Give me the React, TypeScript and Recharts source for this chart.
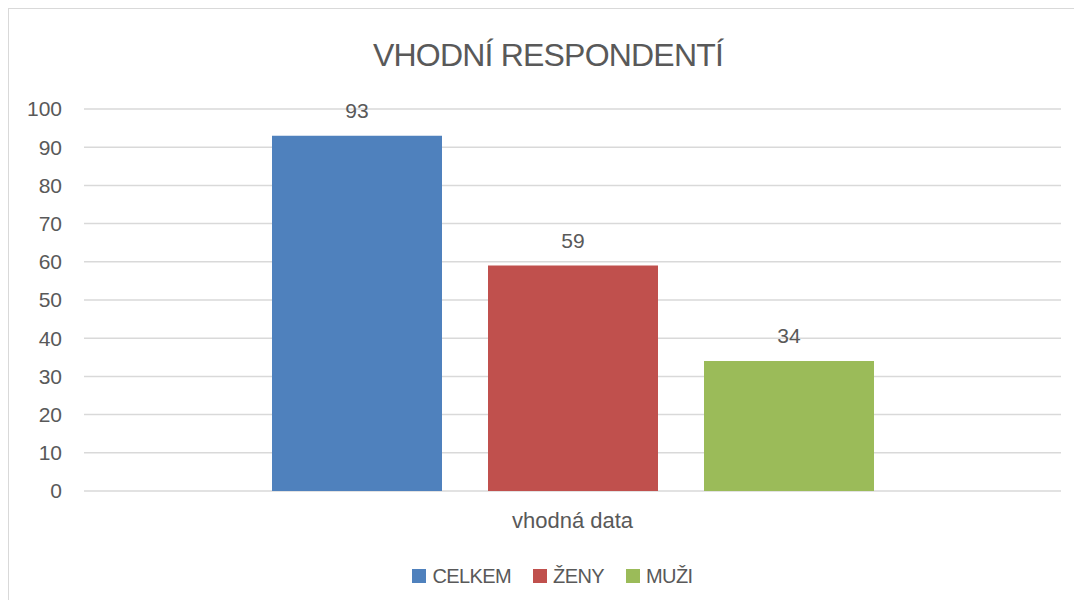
import React from "react";
import { BarChart, Bar, XAxis, YAxis, CartesianGrid, Legend, LabelList } from "recharts";

const categories = ["vhodná data"];
const seriesNames = ["CELKEM", "ŽENY", "MUŽI"];
const celkemValues = [93];
const zenyValues = [59];
const muziValues = [34];
const yTicks = [0, 10, 20, 30, 40, 50, 60, 70, 80, 90, 100];
const seriesColors = ["#4F81BD", "#C0504D", "#9BBB59"];
const title = "VHODNÍ RESPONDENTÍ";

const data = categories.map((name, i) => ({
  name,
  [seriesNames[0]]: celkemValues[i],
  [seriesNames[1]]: zenyValues[i],
  [seriesNames[2]]: muziValues[i],
}));

const FONT = "'Liberation Sans', Arial, sans-serif";
const TEXT = "#595959";
const GRID = "#D9D9D9";

const LegendContent = () => (
  <div
    style={{
      display: "flex",
      justifyContent: "center",
      alignItems: "center",
      height: 30,
      paddingLeft: 29,
      fontFamily: FONT,
      fontSize: 20,
      letterSpacing: -0.6,
      color: TEXT,
    }}
  >
    {seriesNames.map((n, i) => (
      <div key={n} style={{ display: "flex", alignItems: "center", marginRight: i < seriesNames.length - 1 ? 22 : 0 }}>
        <div style={{ width: 14, height: 14, background: seriesColors[i], marginRight: 6 }} />
        <span>{n}</span>
      </div>
    ))}
  </div>
);

export default function App() {
  return (
    <div
      style={{
        position: "relative",
        width: 1065,
        height: 591,
        borderTop: `1px solid ${GRID}`,
        borderLeft: `1px solid ${GRID}`,
        marginTop: 0,
        background: "#fff",
        fontFamily: FONT,
      }}
    >
      <div
        style={{
          position: "absolute",
          left: 0,
          width: 1078,
          top: 30,
          textAlign: "center",
          fontSize: 32,
          lineHeight: "32px",
          letterSpacing: -0.8,
          color: TEXT,
          fontFamily: FONT,
        }}
      >
        {title}
      </div>
      <BarChart
        width={1058}
        height={591}
        data={data}
        margin={{ top: 100, right: 6, left: 0, bottom: 9 }}
        barSize={170}
        barGap={46}
      >
        <CartesianGrid horizontal vertical={false} stroke={GRID} strokeWidth={1.5} />
        <XAxis
          dataKey="name"
          axisLine={false}
          tickLine={false}
          tickSize={0}
          tickMargin={21}
          height={70}
          tick={{ fill: TEXT, fontSize: 22, fontFamily: FONT }}
        />
        <YAxis
          domain={[0, 100]}
          ticks={yTicks}
          axisLine={false}
          tickLine={false}
          tickSize={0}
          tickMargin={22}
          width={75}
          interval={0}
          tick={{ fill: TEXT, fontSize: 21, fontFamily: FONT }}
        />
        <Legend
          verticalAlign="bottom"
          wrapperStyle={{ left: 0, width: 1058 }}
          content={() => <LegendContent />}
        />
        {seriesNames.map((n, i) => (
          <Bar key={n} dataKey={n} fill={seriesColors[i]} isAnimationActive={false}>
            <LabelList
              dataKey={n}
              position="top"
              offset={18}
              fill={TEXT}
              fontSize={21}
              fontFamily={FONT}
            />
          </Bar>
        ))}
      </BarChart>
    </div>
  );
}
